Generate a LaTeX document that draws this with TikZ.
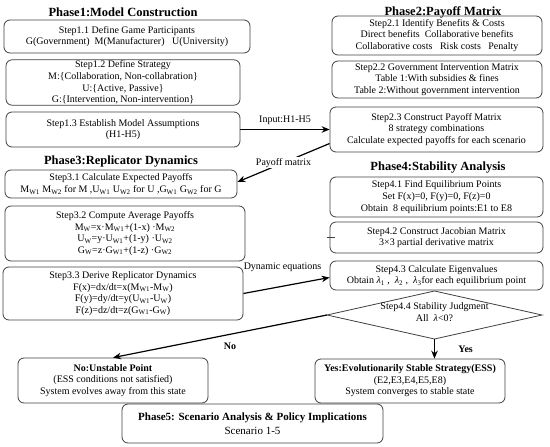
\documentclass[tikz,border=0pt]{standalone}
\usepackage{fontspec}
\setmainfont{Liberation Serif}
\usetikzlibrary{arrows.meta}
\begin{document}
\begin{tikzpicture}[x=1pt,y=-1pt,
  box/.style={draw=black!75, rounded corners=6pt, line width=0.8pt, align=center, inner sep=1pt,
    font=\fontsize{10}{11.6}\selectfont},
  title/.style={font=\fontsize{12.5}{14}\selectfont\bfseries},
  lab/.style={font=\fontsize{10}{12}\selectfont},
  arr/.style={line width=1.2pt, -{Stealth[length=8pt,width=6.5pt]}}
]
\useasboundingbox (0,0) rectangle (550,447);
% Phase 1
\node[title] (p1) at (123,12) {Phase1:Model Construction};
\node[box, minimum width=246, minimum height=33] (s11) at (127,36.5)
  {Step1.1 Define Game Participants\\G(Government)\ \ M(Manufacturer)\ \ \ U(University)};
\node[box, minimum width=234, minimum height=45] (s12) at (123,82.5)
  {Step1.2 Define Strategy\\M:\{Collaboration, Non-collabration\}\\U:\{Active, Passive\}\\G:\{Intervention, Non-intervention\}};
\node[box, minimum width=234, minimum height=35] (s13) at (123,129.5)
  {Step1.3 Establish Model Assumptions\\(H1-H5)};
% Phase 3
\node[title] (p3) at (121,162) {Phase3:Replicator Dynamics};
\node[box, minimum width=232, minimum height=28] (s31) at (121,184)
  {Step3.1 Calculate Expected Payoffs\\M\textsubscript{W1}\ M\textsubscript{W2} for M ,U\textsubscript{W1}\ U\textsubscript{W2} for U ,G\textsubscript{W1}\ G\textsubscript{W2} for G};
\node[box, minimum width=240, minimum height=55] (s32) at (125,233.5)
  {Step3.2 Compute Average Payoffs\\M\textsubscript{W}=x·M\textsubscript{W1}+(1-x) ·M\textsubscript{W2}\\U\textsubscript{W}=y·U\textsubscript{W1}+(1-y) ·U\textsubscript{W2}\\G\textsubscript{W}=z·G\textsubscript{W1}+(1-z) ·G\textsubscript{W2}};
\node[box, minimum width=240, minimum height=53] (s33) at (123,293.5)
  {Step3.3 Derive Replicator Dynamics\\F(x)=dx/dt=x(M\textsubscript{W1}-M\textsubscript{W})\\F(y)=dy/dt=y(U\textsubscript{W1}-U\textsubscript{W})\\F(z)=dz/dt=z(G\textsubscript{W1}-G\textsubscript{W})};
% Phase 2
\node[title] (p2) at (443,12) {Phase2:Payoff Matrix};
\node[box, minimum width=210, minimum height=39] (s21) at (437,35.5)
  {Step2.1 Identify Benefits \& Costs\\Direct benefits\ \ Collaborative benefits\\Collaborative costs\ \ \ Risk costs\ \ \ Penalty};
\node[box, minimum width=210, minimum height=37] (s22) at (437,79.5)
  {Step2.2 Government Intervention Matrix\\Table 1:With subsidies \& fines\\Table 2:Without government intervention};
\node[box, minimum width=213, minimum height=45] (s23) at (436.5,129.5)
  {Step2.3 Construct Payoff Matrix\\8 strategy combinations\\Calculate expected payoffs for each scenario};
% Phase 4
\node[title] (p4) at (438,168) {Phase4:Stability Analysis};
\node[box, minimum width=213, minimum height=40] (s41) at (436.5,197)
  {Step4.1 Find Equilibrium Points\\Set F(x)=0, F(y)=0, F(z)=0\\Obtain\ \ 8 equilibrium points:E1 to E8};
\node[box, minimum width=213, minimum height=31] (s42) at (436.5,237.5)
  {Step4.2 Construct Jacobian Matrix\\3×3 partial derivative matrix};
\node[box, minimum width=213, minimum height=29] (s43) at (436.5,275.5)
  {Step4.3 Calculate Eigenvalues\\Obtain \textit{λ}\textsubscript{1}\ ,\ \ \textit{λ}\textsubscript{2}\ ,\ \ \textit{λ}\textsubscript{3}for each equilibrium point};
% Diamond
\coordinate (dl) at (327,315);
\coordinate (dt) at (434.5,291);
\coordinate (dr) at (542,315);
\coordinate (db) at (434.5,339);
\draw[black!75, line width=0.8pt] (dl) -- (dt) -- (dr) -- (db) -- cycle;
\node[align=center, font=\fontsize{10}{12}\selectfont] (s44) at (434.5,312)
  {Step4.4 Stability Judgment\\All\ \ \textit{λ}<0?};
% Outcomes
\node[box, minimum width=190, minimum height=45] (no) at (113,380.5)
  {\textbf{No:Unstable Point}\\(ESS conditions not satisfied)\\System evolves away from this state};
\node[box, minimum width=190, minimum height=44] (yes) at (410,381)
  {\textbf{Yes:Evolutionarily Stable Strategy(ESS)}\\(E2,E3,E4,E5,E8)\\System converges to stable state};
\node[box, minimum width=261, minimum height=39, font=\fontsize{11}{14}\selectfont] (p5) at (252.5,423.5)
  {\textbf{Phase5: Scenario Analysis \& Policy Implications}\\Scenario 1-5};
% Connectors
\draw[arr] (s13.east) -- node[lab, above=1pt] {Input:H1-H5} (s13.east -| s23.west);
\draw[arr] ([yshift=-14pt]s23.west) -- node[lab, fill=white, inner sep=1pt] {Payoff matrix} ([yshift=2pt]s31.east);
\draw[arr] (s33.east) -- node[lab, above=10pt, xshift=-4pt] {Dynamic equations} ([yshift=-2pt]s43.west);
\draw[arr] (dl) -- node[lab, below=3pt, xshift=10pt, font=\fontsize{10}{12}\selectfont\bfseries] {No} (no.north);
\draw[arr] (db) -- node[lab, right=20pt, font=\fontsize{10}{12}\selectfont\bfseries] {Yes} (db |- yes.north);
\draw[black!75, line width=0.6pt] ([xshift=-3pt]s42.west) -- ([xshift=5pt]s42.west);
\end{tikzpicture}
\end{document}
